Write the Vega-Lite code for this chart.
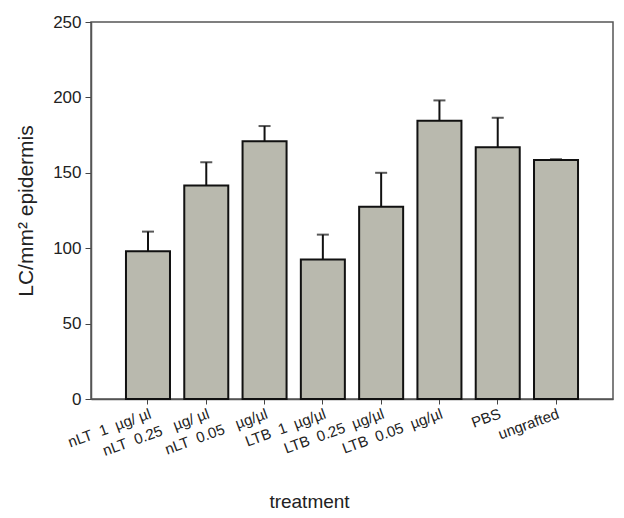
{
  "$schema": "https://vega.github.io/schema/vega-lite/v6.json",
  "autosize": "none",
  "width": 522,
  "height": 377,
  "padding": {"left": 91, "top": 22, "right": 11, "bottom": 119},
  "background": "white",
  "config": {
    "view": {"stroke": "#555", "strokeWidth": 1.5},
    "font": "Liberation Sans"
  },
  "data": {
    "values": [
      {"treatment": "nLT\u00a0 1\u00a0 µg/ µl", "value": 98, "upper": 111},
      {"treatment": "nLT\u00a0 0.25\u00a0\u00a0 µg/ µl", "value": 141.5, "upper": 157},
      {"treatment": "nLT\u00a0 0.05\u00a0\u00a0 µg/µl", "value": 171, "upper": 181},
      {"treatment": "LTB\u00a0 1\u00a0 µg/µl", "value": 92.5, "upper": 109},
      {"treatment": "LTB\u00a0 0.25\u00a0 µg/µl", "value": 127.5, "upper": 150},
      {"treatment": "LTB\u00a0 0.05\u00a0 µg/µl", "value": 184.5, "upper": 198},
      {"treatment": "PBS", "value": 167, "upper": 186.5},
      {"treatment": "ungrafted", "value": 158.5, "upper": 159}
    ]
  },
  "encoding": {
    "x": {
      "field": "treatment",
      "type": "nominal",
      "sort": null,
      "scale": {"paddingInner": 0.245, "paddingOuter": 0.6},
      "axis": {
        "title": "treatment",
        "titleFont": "Liberation Sans",
        "titleFontSize": 19,
        "titleFontWeight": "normal",
        "titleColor": "#222",
        "titleX": 218,
        "titleY": 108,
        "titleBaseline": "alphabetic",
        "titleAnchor": "middle",
        "titleAlign": "center",
        "labelAngle": -20,
        "labelAlign": "right",
        "labelBaseline": "top",
        "labelFontSize": 15,
        "labelColor": "#222",
        "labelPadding": 2,
        "labelOverlap": false,
        "labelLimit": 0,
        "tickSize": 5,
        "tickColor": "#444",
        "domainColor": "#555",
        "domainWidth": 1.5,
        "grid": false
      }
    }
  },
  "layer": [
    {
      "mark": {"type": "bar", "fill": "#b9b9ae", "stroke": "#111", "strokeWidth": 2},
      "encoding": {
        "y": {
          "field": "value",
          "type": "quantitative",
          "scale": {"domain": [0, 250], "nice": false},
          "axis": {
            "title": "LC/mm² epidermis",
            "titleFont": "Liberation Sans",
            "titleFontSize": 21,
            "titleFontWeight": "normal",
            "titleColor": "#222",
            "titlePadding": 16,
            "values": [0, 50, 100, 150, 200, 250],
            "labelFontSize": 17,
            "labelColor": "#222",
            "labelPadding": 4,
            "tickSize": 6,
            "tickColor": "#444",
            "domainColor": "#555",
            "domainWidth": 1.5,
            "grid": false
          }
        }
      }
    },
    {
      "mark": {"type": "rule", "color": "#111", "strokeWidth": 2},
      "encoding": {
        "y": {"field": "value", "type": "quantitative"},
        "y2": {"field": "upper"}
      }
    },
    {
      "mark": {"type": "tick", "color": "#111", "size": 12, "thickness": 2, "orient": "horizontal"},
      "encoding": {
        "y": {"field": "upper", "type": "quantitative"}
      }
    }
  ]
}
